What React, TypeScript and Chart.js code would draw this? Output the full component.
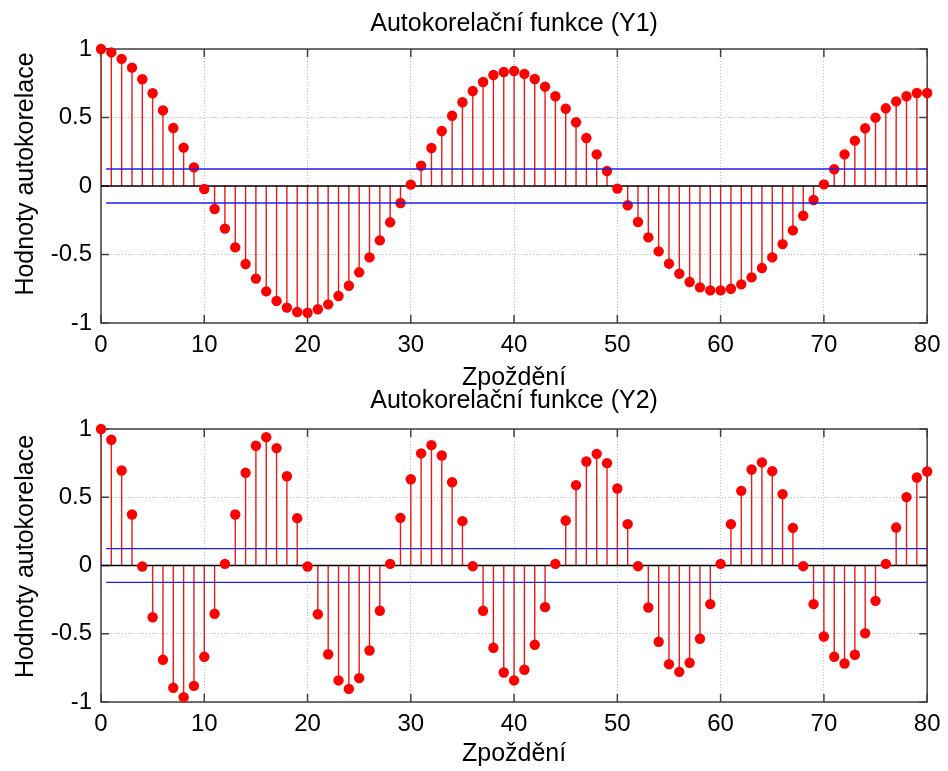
import React, { useEffect, useRef } from "react";
import { Chart, registerables } from "chart.js";

Chart.register(...registerables);

// ---------- data ----------
const lags = [
  0, 1, 2, 3, 4, 5, 6, 7, 8, 9, 10, 11, 12, 13, 14, 15, 16, 17, 18, 19, 20,
  21, 22, 23, 24, 25, 26, 27, 28, 29, 30, 31, 32, 33, 34, 35, 36, 37, 38, 39, 40,
  41, 42, 43, 44, 45, 46, 47, 48, 49, 50, 51, 52, 53, 54, 55, 56, 57, 58, 59, 60,
  61, 62, 63, 64, 65, 66, 67, 68, 69, 70, 71, 72, 73, 74, 75, 76, 77, 78, 79, 80,
];

const acfY1 = [
  1.0, 0.975, 0.928, 0.864, 0.779, 0.677, 0.552, 0.423, 0.28, 0.136,
  -0.022, -0.168, -0.311, -0.448, -0.569, -0.676, -0.769, -0.839, -0.888, -0.92,
  -0.925, -0.9, -0.864, -0.803, -0.728, -0.63, -0.521, -0.397, -0.265, -0.124,
  0.01, 0.148, 0.277, 0.401, 0.513, 0.611, 0.693, 0.759, 0.81, 0.832,
  0.839, 0.818, 0.781, 0.725, 0.655, 0.564, 0.465, 0.35, 0.231, 0.109,
  -0.019, -0.141, -0.263, -0.375, -0.477, -0.567, -0.64, -0.701, -0.74, -0.762,
  -0.762, -0.75, -0.718, -0.667, -0.599, -0.521, -0.424, -0.324, -0.217, -0.102,
  0.012, 0.122, 0.231, 0.331, 0.421, 0.499, 0.567, 0.618, 0.655, 0.679,
  0.679,
];

const acfY2 = [
  1.0, 0.921, 0.696, 0.374, -0.007, -0.379, -0.691, -0.896, -0.965, -0.882,
  -0.669, -0.354, 0.012, 0.374, 0.679, 0.877, 0.94, 0.86, 0.654, 0.347,
  -0.007, -0.357, -0.65, -0.842, -0.904, -0.825, -0.623, -0.332, 0.012, 0.349,
  0.632, 0.821, 0.882, 0.806, 0.61, 0.325, -0.005, -0.332, -0.603, -0.784,
  -0.842, -0.764, -0.581, -0.305, 0.012, 0.33, 0.589, 0.762, 0.818, 0.75,
  0.564, 0.303, -0.005, -0.308, -0.559, -0.723, -0.779, -0.713, -0.537, -0.283,
  0.012, 0.303, 0.547, 0.703, 0.755, 0.691, 0.523, 0.276, -0.005, -0.283,
  -0.52, -0.669, -0.718, -0.654, -0.496, -0.259, 0.012, 0.278, 0.501, 0.645,
  0.689,
];

const confBound = 0.124;
const confLagRange = [0.5, 80];
const zeroLagRange = [0, 80];

const xTickValues = [0, 10, 20, 30, 40, 50, 60, 70, 80];
const xTickLabels = ["0", "10", "20", "30", "40", "50", "60", "70", "80"];
const yTickValues = [-1, -0.5, 0, 0.5, 1];
const yTickLabels = ["-1", "-0.5", "0", "0.5", "1"];

const chartTitles = ["Autokorelační funkce (Y1)", "Autokorelační funkce (Y2)"];
const xAxisLabel = "Zpoždění";
const yAxisLabel = "Hodnoty autokorelace";

// ---------- styles ----------
const FONT = "'Liberation Sans', Arial, Helvetica, sans-serif";
const RED = "#ff0000";
const STEM = "#e81a1a";
const BLUE = "#1e1ee6";
const FRAME = "#404040";

const framePlugin = {
  id: "matlabFrame",
  beforeDatasetsDraw(chart: any) {
    const { ctx, chartArea: a, scales } = chart;
    const tl = 8;
    ctx.save();
    ctx.strokeStyle = FRAME;
    ctx.lineWidth = 1.5;
    ctx.strokeRect(a.left, a.top, a.right - a.left, a.bottom - a.top);
    ctx.beginPath();
    for (const t of scales.x.ticks) {
      const px = scales.x.getPixelForValue(t.value);
      ctx.moveTo(px, a.bottom);
      ctx.lineTo(px, a.bottom - tl);
      ctx.moveTo(px, a.top);
      ctx.lineTo(px, a.top + tl);
    }
    for (const t of scales.y.ticks) {
      const py = scales.y.getPixelForValue(t.value);
      ctx.moveTo(a.left, py);
      ctx.lineTo(a.left + tl, py);
      ctx.moveTo(a.right, py);
      ctx.lineTo(a.right - tl, py);
    }
    ctx.stroke();
    ctx.restore();
  },
};

const yTitlePlugin = {
  id: "yTitle",
  afterDraw(chart: any, _args: any, opts: any) {
    const { ctx, chartArea: a } = chart;
    ctx.save();
    ctx.font = `25px ${FONT}`;
    ctx.fillStyle = "#000";
    ctx.textAlign = "center";
    ctx.textBaseline = "alphabetic";
    ctx.translate(opts.x, (a.top + a.bottom) / 2 + opts.dy);
    ctx.rotate(-Math.PI / 2);
    ctx.fillText(opts.text, 0, 0);
    ctx.restore();
  },
};

type PanelProps = {
  top: number;
  height: number;
  values: number[];
  title: string;
  titlePad: { top: number; bottom: number };
  xAxisHeight: number;
  xTitlePadBottom: number;
  tickPad: number;
  yTitleDy: number;
};

function AcfPanel(p: PanelProps) {
  const ref = useRef<HTMLCanvasElement>(null);
  useEffect(() => {
    const points = lags.map((x, i) => ({ x, y: p.values[i] }));
    const stems = lags.flatMap((x, i) => [
      { x, y: 0 },
      { x, y: p.values[i] },
      { x, y: null as any },
    ]);
    const chart = new Chart(ref.current as HTMLCanvasElement, {
      type: "scatter",
      data: {
        datasets: [
          {
            type: "line",
            data: [
              { x: confLagRange[0], y: confBound },
              { x: confLagRange[1], y: confBound },
            ],
            borderColor: BLUE,
            borderWidth: 1.3,
            pointRadius: 0,
          },
          {
            type: "line",
            data: [
              { x: confLagRange[0], y: -confBound },
              { x: confLagRange[1], y: -confBound },
            ],
            borderColor: BLUE,
            borderWidth: 1.3,
            pointRadius: 0,
          },
          {
            type: "scatter",
            data: points,
            pointRadius: 5.2,
            pointHoverRadius: 5.2,
            pointBackgroundColor: RED,
            pointBorderWidth: 0,
            clip: false,
          },
          {
            type: "line",
            data: [
              { x: zeroLagRange[0], y: 0 },
              { x: zeroLagRange[1], y: 0 },
            ],
            borderColor: "#000",
            borderWidth: 1.4,
            pointRadius: 0,
          },
          {
            type: "line",
            data: stems,
            borderColor: STEM,
            borderWidth: 1.4,
            pointRadius: 0,
            spanGaps: false,
          },
        ] as any,
      },
      options: {
        responsive: false,
        animation: false,
        events: [],
        layout: { padding: { left: 0, right: 20.5, top: 0, bottom: 0 } },
        plugins: {
          legend: { display: false },
          tooltip: { enabled: false },
          title: {
            display: true,
            text: p.title,
            fullSize: false,
            color: "#000",
            font: { family: FONT, size: 25, weight: "normal" },
            padding: p.titlePad,
          },
          yTitle: { text: yAxisLabel, x: 33, dy: p.yTitleDy },
        } as any,
        scales: {
          x: {
            type: "linear",
            min: 0,
            max: 80,
            offset: false,
            afterBuildTicks: (s: any) => {
              s.ticks = xTickValues.map((v) => ({ value: v }));
            },
            afterFit: (s: any) => {
              s.height = p.xAxisHeight;
            },
            ticks: {
              color: "#000",
              padding: p.tickPad,
              maxRotation: 0,
              autoSkip: false,
              font: { family: FONT, size: 24 },
              callback: (_v: any, i: number) => xTickLabels[i],
            },
            grid: {
              display: true,
              drawTicks: false,
              offset: false,
              color: "rgba(0,0,0,0.28)",
              lineWidth: 1,
            },
            border: { display: false, dash: [1, 2] },
            title: {
              display: true,
              text: xAxisLabel,
              color: "#000",
              font: { family: FONT, size: 25 },
              padding: { top: 0, bottom: p.xTitlePadBottom },
            },
          },
          y: {
            type: "linear",
            min: -1,
            max: 1,
            afterBuildTicks: (s: any) => {
              s.ticks = yTickValues.map((v) => ({ value: v }));
            },
            afterFit: (s: any) => {
              s.width = 101;
            },
            ticks: {
              color: "#000",
              padding: 9,
              font: { family: FONT, size: 24 },
              callback: (_v: any, i: number) => yTickLabels[i],
            },
            grid: {
              display: true,
              drawTicks: false,
              color: "rgba(0,0,0,0.28)",
              lineWidth: 1,
            },
            border: { display: false, dash: [1, 2] },
          },
        },
      },
      plugins: [framePlugin, yTitlePlugin],
    } as any);
    return () => chart.destroy();
  }, []);
  return (
    <canvas
      ref={ref}
      width={948}
      height={p.height}
      style={{
        position: "absolute",
        left: 0,
        top: p.top,
        width: 948,
        height: p.height,
      }}
    />
  );
}

export default function App() {
  return (
    <div
      style={{
        position: "absolute",
        left: 0,
        top: 0,
        width: 948,
        height: 771,
        background: "#fff",
        overflow: "hidden",
      }}
    >
      <AcfPanel
        top={0}
        height={400}
        values={acfY1}
        title={chartTitles[0]}
        titlePad={{ top: 9.3, bottom: 9.7 }}
        xAxisHeight={77}
        xTitlePadBottom={7}
        tickPad={7.5}
        yTitleDy={-12}
      />
      <AcfPanel
        top={380}
        height={391}
        values={acfY2}
        title={chartTitles[1]}
        titlePad={{ top: 6.3, bottom: 12.7 }}
        xAxisHeight={69}
        xTitlePadBottom={1.7}
        tickPad={7.5}
        yTitleDy={-9}
      />
    </div>
  );
}
